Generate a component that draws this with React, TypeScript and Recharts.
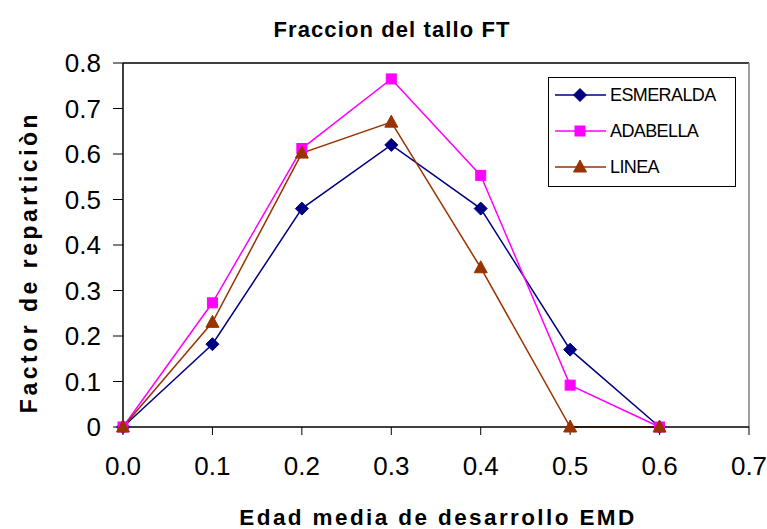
import React from "react";
import { LineChart, Line, XAxis, YAxis, ReferenceLine } from "recharts";

// EMD categories on the x axis
const edad = [0.0, 0.1, 0.2, 0.3, 0.4, 0.5, 0.6];
const esmeralda = [0, 0.182, 0.48, 0.62, 0.48, 0.17, 0];
const adabella = [0, 0.273, 0.612, 0.765, 0.553, 0.092, 0];
const linea = [0, 0.23, 0.602, 0.67, 0.35, 0, 0];

const xTicks = [0, 0.1, 0.2, 0.3, 0.4, 0.5, 0.6, 0.7];
const yTicks = [0, 0.1, 0.2, 0.3, 0.4, 0.5, 0.6, 0.7, 0.8];

const data = edad.map((x, i) => ({
  x,
  ESMERALDA: esmeralda[i],
  ADABELLA: adabella[i],
  LINEA: linea[i],
}));

const FONT = "'Liberation Sans', Arial, sans-serif";

const COLORS = {
  ESMERALDA: "#000080",
  ADABELLA: "#FF00FF",
  LINEA: "#993300",
};

const Diamond = ({ cx, cy, color }: any) => (
  <polygon
    points={`${cx},${cy - 6.5} ${cx + 6.5},${cy} ${cx},${cy + 6.5} ${cx - 6.5},${cy}`}
    fill={color}
    stroke={color}
    strokeWidth={1}
  />
);

const Square = ({ cx, cy, color }: any) => (
  <rect x={cx - 5} y={cy - 5} width={10} height={10} fill={color} stroke={color} strokeWidth={1} />
);

const Triangle = ({ cx, cy, color }: any) => (
  <polygon
    points={`${cx},${cy - 7} ${cx + 6.5},${cy + 5} ${cx - 6.5},${cy + 5}`}
    fill={color}
    stroke={color}
    strokeWidth={1}
  />
);

const makeDot = (Shape: any, color: string) => (props: any) => {
  const { cx, cy, index } = props;
  if (cx == null || cy == null) return <g key={index} />;
  return <Shape key={index} cx={cx} cy={cy} color={color} />;
};

const legendItems = [
  { name: "ESMERALDA", color: COLORS.ESMERALDA, Shape: Diamond },
  { name: "ADABELLA", color: COLORS.ADABELLA, Shape: Square },
  { name: "LINEA", color: COLORS.LINEA, Shape: Triangle },
];

// Boxed legend in the upper right of the plot area
const LegendBox = ({ left, top }: { left: number; top: number }) => (
  <g transform={`translate(${left},${top})`}>
    <rect x={0.5} y={0.5} width={187} height={109} fill="#fff" stroke="#000" strokeWidth={1} />
    {legendItems.map((it, i) => {
      const cy = 18 + i * 36;
      return (
        <g key={it.name}>
          <line x1={7} x2={58} y1={cy} y2={cy} stroke={it.color} strokeWidth={1.5} />
          <it.Shape cx={32} cy={cy} color={it.color} />
          <text
            x={62}
            y={cy}
            dy="0.35em"
            fontFamily={FONT}
            fontSize={18}
            fill="#000"
            letterSpacing={-0.6}
          >
            {it.name}
          </text>
        </g>
      );
    })}
  </g>
);

export default function App() {
  return (
    <div style={{ position: "absolute", left: 0, top: 0, width: 767, height: 529, background: "#fff" }}>
      <LineChart
        width={767}
        height={529}
        data={data}
        margin={{ top: 63, right: 18, bottom: 0, left: 0 }}
      >
        <text
          x={392}
          y={29.5}
          textAnchor="middle"
          dominantBaseline="central"
          fontFamily={FONT}
          fontWeight="bold"
          fontSize={22}
          letterSpacing={1.1}
          fill="#000"
        >
          Fraccion del tallo FT
        </text>
        <text
          x={438}
          y={524.5}
          textAnchor="middle"
          fontFamily={FONT}
          fontWeight="bold"
          fontSize={22.5}
          letterSpacing={2.4}
          fill="#000"
        >
          Edad media de desarrollo EMD
        </text>
        <text
          x={29}
          y={262}
          transform="rotate(-90 29 262)"
          textAnchor="middle"
          dominantBaseline="central"
          fontFamily={FONT}
          fontWeight="bold"
          fontSize={23}
          letterSpacing={3.5}
          fill="#000"
        >
          Factor de reparticiòn
        </text>
        <XAxis
          dataKey="x"
          type="number"
          domain={[0, 0.7]}
          ticks={xTicks}
          interval={0}
          tickFormatter={(v: number) => v.toFixed(1)}
          axisLine={{ stroke: "#000", strokeWidth: 1.5 }}
          tickLine={{ stroke: "#000" }}
          tickSize={8}
          tickMargin={22}
          tick={{ fontFamily: FONT, fontSize: 26, fill: "#000" }}
          height={102}
        />
        <YAxis
          type="number"
          domain={[0, 0.8]}
          ticks={yTicks}
          interval={0}
          tickFormatter={(v: number) => (v === 0 ? "0" : v.toFixed(1))}
          axisLine={{ stroke: "#000", strokeWidth: 1.5 }}
          tickLine={{ stroke: "#000" }}
          tickSize={10}
          tickMargin={12}
          tick={{ fontFamily: FONT, fontSize: 26, fill: "#000" }}
          width={123}
        />
        <ReferenceLine y={0.8} stroke="#000" strokeWidth={1.5} />
        <ReferenceLine x={0.7} stroke="#808080" strokeWidth={1.5} />
        <LegendBox left={548} top={77} />
        <Line
          dataKey="ESMERALDA"
          stroke={COLORS.ESMERALDA}
          strokeWidth={1.5}
          dot={makeDot(Diamond, COLORS.ESMERALDA)}
          isAnimationActive={false}
        />
        <Line
          dataKey="ADABELLA"
          stroke={COLORS.ADABELLA}
          strokeWidth={1.5}
          dot={makeDot(Square, COLORS.ADABELLA)}
          isAnimationActive={false}
        />
        <Line
          dataKey="LINEA"
          stroke={COLORS.LINEA}
          strokeWidth={1.5}
          dot={makeDot(Triangle, COLORS.LINEA)}
          isAnimationActive={false}
        />
      </LineChart>
    </div>
  );
}
